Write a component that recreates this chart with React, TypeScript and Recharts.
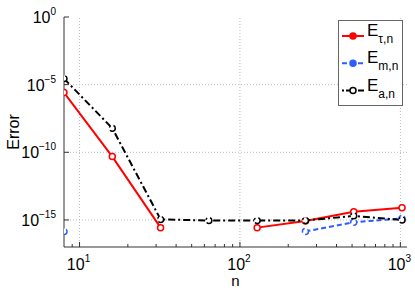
import { LineChart, Line, XAxis, YAxis, ReferenceLine, Legend } from "recharts";

const nValues = [8, 16, 32, 64, 128, 256, 512, 1024];
const errTau = [2.6e-6, 4.8e-11, 2.7e-16, null, 2.7e-16, 8.5e-16, 4e-15, 8e-15];
const errM = [1.4e-16, null, null, null, null, 1.4e-16, 6.8e-16, 1.3e-15];
const errA = [2.8e-5, 6e-9, 1.1e-15, 9e-16, 9e-16, 9e-16, 2e-15, 1e-15];

const xMajor = [10, 100, 1000];
const xMinor = [9, 20, 30, 40, 50, 60, 70, 80, 90, 200, 300, 400, 500, 600, 700, 800, 900];
const yMajor = [1e0, 1e-5, 1e-10, 1e-15];

const seriesOrder = ["tau", "m", "a"];
const legendSubs: Record<string, string> = { tau: "τ,n", m: "m,n", a: "a,n" };

const data = nValues.map((n, i) => ({ n, tau: errTau[i], m: errM[i], a: errA[i] }));
const xTicks = [...xMinor, ...xMajor].sort((p, q) => p - q);

const FONT = "'Liberation Sans', Arial, sans-serif";
const AXIS = "#333";

const expOf = (v: number) => Math.round(Math.log10(v));

function PowerLabel({ x, y, v, anchor }: any) {
  return (
    <text x={x} y={y} textAnchor={anchor} fontSize={16} fontFamily={FONT} fill="#000">
      10
      <tspan dy={-8} fontSize={10}>
        {expOf(v) < 0 ? `\u2212${-expOf(v)}` : expOf(v)}
      </tspan>
    </text>
  );
}

function BottomTick({ x, y, payload }: any) {
  const major = xMajor.includes(payload.value);
  return (
    <g>
      <line x1={x} x2={x} y1={y} y2={y - (major ? 5 : 3)} stroke={AXIS} />
      {major && <PowerLabel x={x - 1} y={y + 23} v={payload.value} anchor="middle" />}
    </g>
  );
}

function TopTick({ x, y, payload }: any) {
  const major = xMajor.includes(payload.value);
  return <line x1={x} x2={x} y1={y} y2={y + (major ? 5 : 3)} stroke={AXIS} />;
}

function LeftTick({ x, y, payload }: any) {
  return (
    <g>
      <line x1={x} x2={x + 5} y1={y} y2={y} stroke={AXIS} />
      <PowerLabel x={x - 8} y={y + 6} v={payload.value} anchor="end" />
    </g>
  );
}

function RightTick({ x, y }: any) {
  return <line x1={x} x2={x - 5} y1={y} y2={y} stroke={AXIS} />;
}

function renderLegend(props: any) {
  const payload = [...(props.payload || [])].sort(
    (p: any, q: any) => seriesOrder.indexOf(p.dataKey) - seriesOrder.indexOf(q.dataKey)
  );
  return (
    <svg width={66} height={87} style={{ display: "block" }}>
      <rect x={0.5} y={0.5} width={64} height={85} fill="#fff" stroke="#666" />
      {payload.map((entry: any, i: number) => {
        const cy = 16 + i * 27.3;
        const key = entry.dataKey;
        const dash = entry.payload?.strokeDasharray;
        return (
          <g key={key}>
            <line x1={4} x2={26} y1={cy} y2={cy} stroke={entry.color} strokeWidth={2} strokeDasharray={key === "a" ? "2 2 6 2" : dash} />
            <circle cx={15} cy={cy} r={3} fill={key === "a" ? "#fff" : entry.color} stroke={entry.color} strokeWidth={1.5} />
            <text x={29} y={cy} fontSize={17} fontFamily={FONT} fill="#000">
              E
              <tspan dy={7} fontSize={12}>
                {legendSubs[key]}
              </tspan>
            </text>
          </g>
        );
      })}
    </svg>
  );
}

const dotStyle = (color: string) => ({ r: 3, fill: "#fff", stroke: color, strokeWidth: 1.5 });

export default function App() {
  return (
    <div style={{ position: "absolute", left: 0, top: 0 }}>
      <LineChart width={415} height={291} data={data} margin={{ top: 17, right: 8, left: 0, bottom: 14 }}>
        <XAxis
          dataKey="n"
          type="number"
          scale="log"
          domain={[8, 1100]}
          allowDataOverflow
          ticks={xTicks}
          interval={0}
          tickSize={0}
          tickMargin={0}
          tickLine={false}
          tick={<BottomTick />}
          height={30}
          axisLine={{ stroke: AXIS }}
          label={({ viewBox }: any) => (
            <text x={viewBox.x + viewBox.width / 2} y={viewBox.y + 39} textAnchor="middle" fontSize={15} fontFamily={FONT} fill="#000">
              n
            </text>
          )}
        />
        <XAxis
          xAxisId="t"
          dataKey="n"
          orientation="top"
          type="number"
          scale="log"
          domain={[8, 1100]}
          allowDataOverflow
          ticks={xTicks}
          interval={0}
          tickSize={0}
          tickMargin={0}
          tickLine={false}
          tick={<TopTick />}
          height={0}
          axisLine={{ stroke: AXIS }}
        />
        <YAxis
          type="number"
          scale="log"
          domain={[1e-17, 1]}
          allowDataOverflow
          ticks={yMajor}
          interval={0}
          tickSize={0}
          tickMargin={0}
          tickLine={false}
          tick={<LeftTick />}
          width={64}
          axisLine={{ stroke: AXIS }}
          label={({ viewBox }: any) => {
            const cx = viewBox.x + 19;
            const cy = viewBox.y + viewBox.height / 2;
            return (
              <text x={cx} y={cy} transform={`rotate(-90 ${cx} ${cy})`} textAnchor="middle" fontSize={16} fontFamily={FONT} fill="#000">
                Error
              </text>
            );
          }}
        />
        <YAxis
          yAxisId="r"
          orientation="right"
          type="number"
          scale="log"
          domain={[1e-17, 1]}
          allowDataOverflow
          ticks={yMajor}
          interval={0}
          tickSize={0}
          tickMargin={0}
          tickLine={false}
          tick={<RightTick />}
          width={0}
          axisLine={{ stroke: AXIS }}
        />
        {xMajor.map((v) => (
          <ReferenceLine key={`gx${v}`} x={v} stroke="#bbb" strokeDasharray="1 2" />
        ))}
        {yMajor.slice(1).map((v) => (
          <ReferenceLine key={`gy${v}`} y={v} stroke="#bbb" strokeDasharray="1 2" />
        ))}
        <Line dataKey="tau" stroke="#ff0000" strokeWidth={2} dot={dotStyle("#ff0000")} isAnimationActive={false} />
        <Line dataKey="m" stroke="#2f5bff" strokeWidth={2} strokeDasharray="5 3" dot={dotStyle("#2f5bff")} isAnimationActive={false} />
        <Line dataKey="a" stroke="#000" strokeWidth={2} strokeDasharray="7 3 2 3" dot={dotStyle("#000")} isAnimationActive={false} />
        <Legend
          layout="vertical"
          align="center"
          verticalAlign="middle"
          itemSorter={null}
          content={renderLegend}
          wrapperStyle={{ left: 338, top: 20, width: 66, height: 87 }}
        />
      </LineChart>
    </div>
  );
}
